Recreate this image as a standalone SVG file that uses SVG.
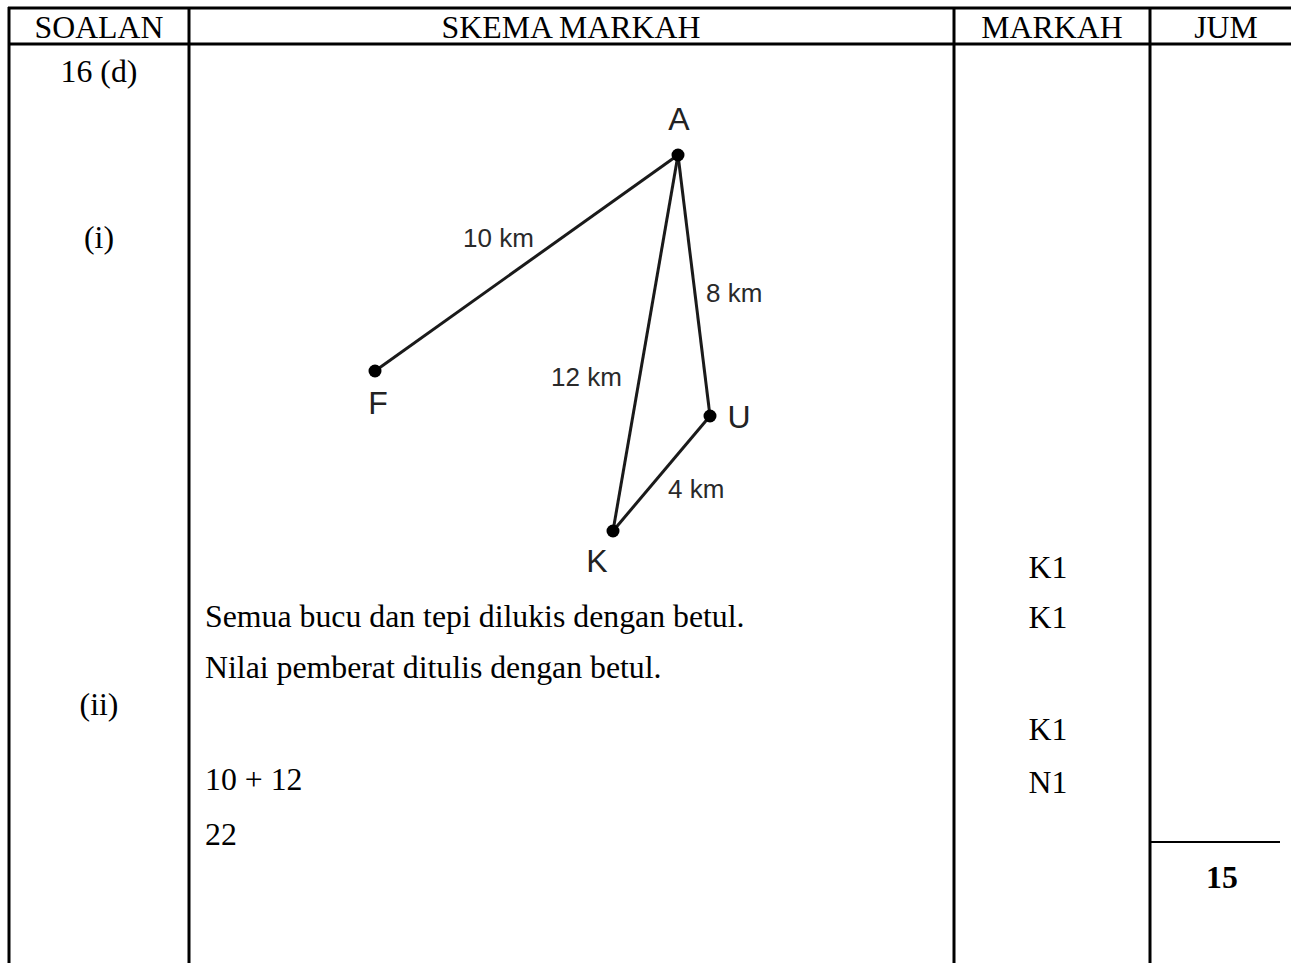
<svg xmlns="http://www.w3.org/2000/svg" width="1291" height="963" viewBox="0 0 1291 963">
<style>
.t{font-family:"Liberation Serif","Times New Roman",serif;font-size:31.8px;fill:#000}
.c{text-anchor:middle}
.b{font-weight:bold}
.grid{stroke:#000;stroke-width:3;fill:none}
.thin{stroke:#000;stroke-width:2;fill:none}
.edge{stroke:#1a1a1a;stroke-width:3;fill:none}
.v{font-family:"Liberation Sans",Arial,sans-serif;font-size:32px;fill:#222}
.w{font-family:"Liberation Sans",Arial,sans-serif;font-size:26px;fill:#2a2a2a}
</style>
<rect width="1291" height="963" fill="#fff"/>
<g id="table">
<line class="grid" x1="8" y1="8" x2="1291" y2="8"/>
<line class="grid" x1="8" y1="44" x2="1291" y2="44"/>
<line class="grid" x1="9" y1="7" x2="9" y2="963"/>
<line class="grid" x1="189" y1="7" x2="189" y2="963"/>
<line class="grid" x1="954" y1="7" x2="954" y2="963"/>
<line class="grid" x1="1150" y1="7" x2="1150" y2="963"/>
<line class="thin" x1="1150" y1="842" x2="1280" y2="842"/>
</g>
<g id="header">
<text class="t c" x="99" y="38">SOALAN</text>
<text class="t c" x="571" y="38">SKEMA MARKAH</text>
<text class="t c" x="1052" y="38">MARKAH</text>
<text class="t c" x="1226" y="38">JUM</text>
</g>
<g id="soalan">
<text class="t c" x="99" y="82">16 (d)</text>
<text class="t c" x="99" y="248">(i)</text>
<text class="t c" x="99" y="715">(ii)</text>
</g>
<g id="connectors">
<line class="edge" x1="678" y1="155" x2="375" y2="371"/>
<line class="edge" x1="678" y1="155" x2="613" y2="531"/>
<line class="edge" x1="678" y1="155" x2="710" y2="416"/>
<line class="edge" x1="710" y1="416" x2="613" y2="531"/>
</g>
<g id="node-A"><circle cx="678" cy="155" r="6.5" fill="#000"/><text class="v c" x="679" y="130">A</text></g>
<g id="node-F"><circle cx="375" cy="371" r="6.5" fill="#000"/><text class="v c" x="378" y="414">F</text></g>
<g id="node-U"><circle cx="710" cy="416" r="6.5" fill="#000"/><text class="v c" x="739" y="428">U</text></g>
<g id="node-K"><circle cx="613" cy="531" r="6.5" fill="#000"/><text class="v c" x="597" y="572">K</text></g>
<g id="edge-labels">
<text class="w" x="463" y="247">10 km</text>
<text class="w" x="706" y="302">8 km</text>
<text class="w" x="551" y="386">12 km</text>
<text class="w" x="668" y="498">4 km</text>
</g>
<g id="skema">
<text class="t" x="205" y="627">Semua bucu dan tepi dilukis dengan betul.</text>
<text class="t" x="205" y="678">Nilai pemberat ditulis dengan betul.</text>
<text class="t" x="205" y="790">10 + 12</text>
<text class="t" x="205" y="845">22</text>
</g>
<g id="markah">
<text class="t c" x="1048" y="578">K1</text>
<text class="t c" x="1048" y="628">K1</text>
<text class="t c" x="1048" y="740">K1</text>
<text class="t c" x="1048" y="793">N1</text>
</g>
<g id="jum">
<text class="t c b" x="1222" y="888">15</text>
</g>
</svg>
